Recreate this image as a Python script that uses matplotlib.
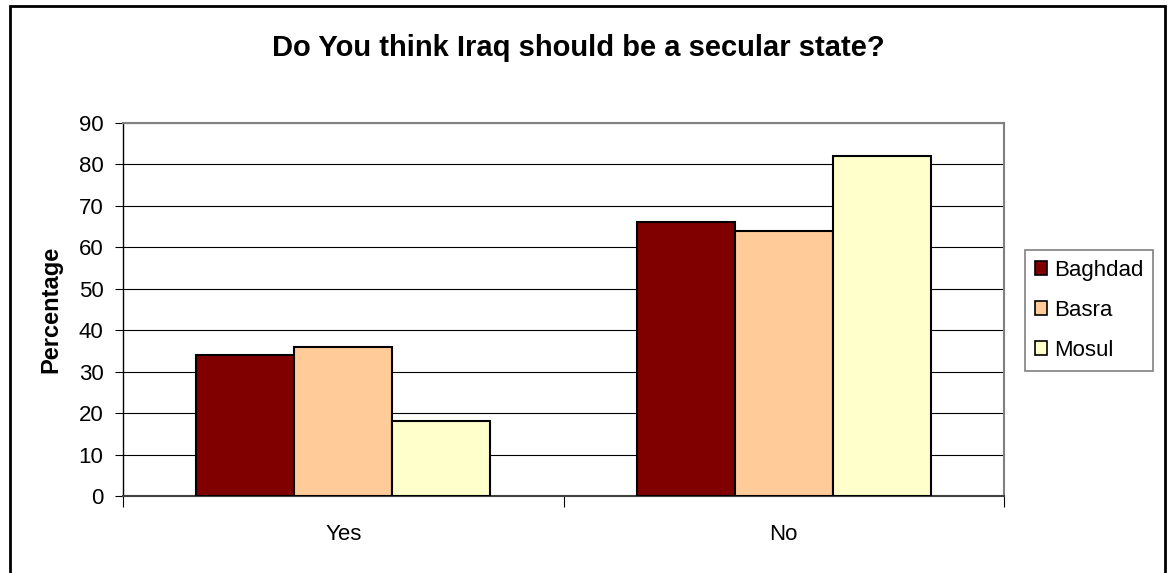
import matplotlib.pyplot as plt
from matplotlib.patches import Patch, Rectangle

plt.rcParams['font.family'] = ['Liberation Sans', 'DejaVu Sans']

answers = ["Yes", "No"]
cities = ["Baghdad", "Basra", "Mosul"]
baghdad = [34, 66]
basra = [36, 64]
mosul = [18, 82]
colors = ["#800000", "#FFCC99", "#FFFFCC"]

W, H = 1173, 573
fig = plt.figure(figsize=(W / 100, H / 100), dpi=100)
ax = fig.add_axes([123 / W, (H - 496) / H, (1004 - 123) / W, (496 - 123) / H])

w = 2 / 9
for j, (vals, c) in enumerate(zip([baghdad, basra, mosul], colors)):
    xs = [i + (j - 1) * w for i in range(len(answers))]
    ax.bar(xs, vals, width=w, color=c, edgecolor="black", linewidth=1.5, zorder=3)

ax.set_xlim(-0.5, 1.5)
ax.set_ylim(0, 90)
ax.set_yticks(range(0, 91, 10))
ax.set_yticklabels([str(v) for v in range(0, 91, 10)], fontsize=16)
ax.set_xticks([0, 1])
ax.set_xticklabels(answers, fontsize=16)
ax.set_xticks([-0.5, 0.5, 1.5], minor=True)
ax.tick_params(axis="x", which="major", length=0, pad=20)
ax.tick_params(axis="x", which="minor", length=8, width=0.8, direction="out")
ax.tick_params(axis="y", length=6, width=0.8, direction="out", pad=8)
ax.yaxis.grid(True, color="black", linewidth=0.8, zorder=0)
ax.set_axisbelow(True)
for s in ["top", "right"]:
    ax.spines[s].set_color("#808080")
    ax.spines[s].set_linewidth(1.5)
ax.spines["left"].set_color("black")
ax.spines["left"].set_linewidth(1.0)
ax.spines["bottom"].set_linewidth(1.5)
ax.spines["bottom"].set_color("#404040")

ax.set_ylabel("Percentage", fontsize=17, fontweight="bold", labelpad=12)

fig.text(578 / W, (H - 48) / H, "Do You think Iraq should be a secular state?",
         ha="center", va="center", fontsize=21, fontweight="bold")

handles = [Patch(facecolor=c, edgecolor="black", linewidth=1.2) for c in colors]
leg = fig.legend(handles, cities, loc="upper left",
                 bbox_to_anchor=(1025 / W, (H - 250) / H), fontsize=16,
                 handlelength=0.55, handleheight=0.55, handletextpad=0.3,
                 labelspacing=0.85, borderpad=0.45, borderaxespad=0,
                 fancybox=False, framealpha=1)
leg.get_frame().set_edgecolor("#808080")
leg.get_frame().set_linewidth(1.2)

fig.patches.append(Rectangle((10 / W, -0.1), (1165 - 10) / W, (H - 6) / H + 0.1,
                             transform=fig.transFigure, fill=False,
                             edgecolor="black", linewidth=2))

fig.savefig("out.png", dpi=100)
